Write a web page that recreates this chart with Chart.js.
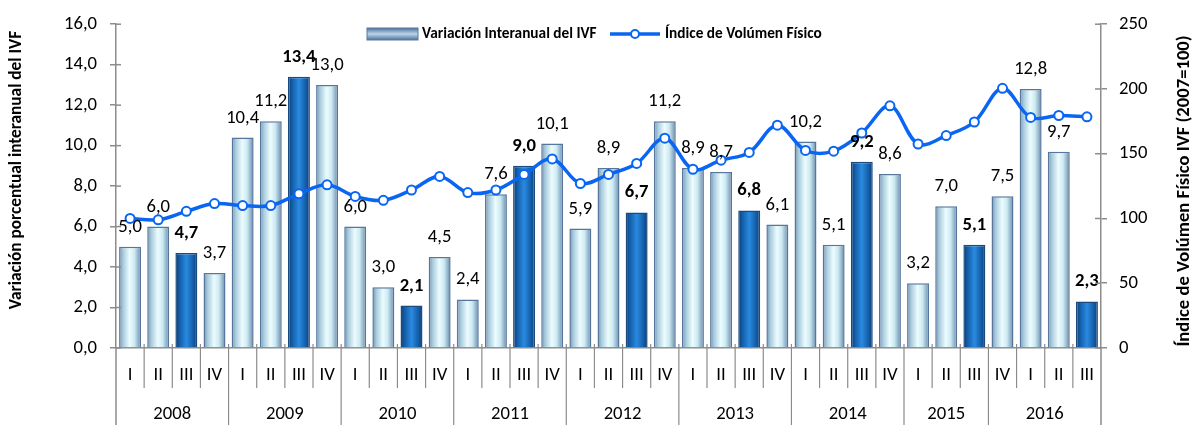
<!DOCTYPE html>
<html>
<head>
<meta charset="utf-8">
<script src="https://cdn.jsdelivr.net/npm/chart.js@4.4.1/dist/chart.umd.min.js"></script>
<style>
html,body{margin:0;padding:0;background:#ffffff;}
#wrap{width:1200px;height:425px;position:relative;}
</style>
</head>
<body>
<div id="wrap"><canvas id="c" width="1200" height="425" style="width:1200px;height:425px;"></canvas></div>
<script>
// ---------- DATA ----------
const quarters = ['I','II','III','IV','I','II','III','IV','I','II','III','IV','I','II','III','IV',
  'I','II','III','IV','I','II','III','IV','I','II','III','IV','I','II','III','IV','I','II','III'];
const yearLabels = ['2008','2009','2010','2011','2012','2013','2014','2015','2016'];
const yearSpans  = [4,4,4,4,4,4,4,3,4];
const variacion = [5.0,6.0,4.7,3.7, 10.4,11.2,13.4,13.0, 6.0,3.0,2.1,4.5, 2.4,7.6,9.0,10.1,
  5.9,8.9,6.7,11.2, 8.9,8.7,6.8,6.1, 10.2,5.1,9.2,8.6, 3.2,7.0,5.1,7.5, 12.8,9.7,2.3];
const indice = [100,99,105.5,111.5, 110,110,119,126, 117,114,122,132.5, 120,122,134,146,
  127,134,142.5,162, 138,145,151,172, 152.5,152,166,187, 157.5,164,174.5,200.5, 178,179.5,178.5];
const seriesNames = ['Variación Interanual del IVF','Índice de Volúmen Físico'];
const leftTitle = 'Variación porcentual interanual del IVF';
const rightTitle = 'Índice de Volúmen Físico IVF (2007=100)';

// ---------- STYLE ----------
const FONT = "Carlito, Lato, 'Open Sans', sans-serif";
const FS = 18.67;
const AXIS = '#8c8c8c';
const LINE = '#0a66f2';
const isHi = i => quarters[i] === 'III';
const fmt = v => v.toFixed(1).replace('.', ',');

function barGradient(chart, i) {
  const xs = chart.scales.x;
  const cx = xs.getPixelForValue(i);
  const w = xs.width / quarters.length * 0.78;
  const g = chart.ctx.createLinearGradient(cx - w / 2, 0, cx + w / 2, 0);
  if (isHi(i)) {
    g.addColorStop(0, '#0a3a72'); g.addColorStop(0.18, '#135ca6');
    g.addColorStop(0.5, '#2a8ae0'); g.addColorStop(0.82, '#135ca6'); g.addColorStop(1, '#0a3a72');
  } else {
    g.addColorStop(0, '#6f8fb2'); g.addColorStop(0.18, '#a8cbdc');
    g.addColorStop(0.48, '#ecfcff'); g.addColorStop(0.7, '#cdeaf2');
    g.addColorStop(0.88, '#8fb0c8'); g.addColorStop(1, '#62809f');
  }
  return g;
}

const decor = {
  id: 'decor',
  afterDatasetsDraw(chart) {
    const ctx = chart.ctx;
    const meta = chart.getDatasetMeta(1);
    ctx.save();
    ctx.textAlign = 'center';
    ctx.textBaseline = 'alphabetic';
    ctx.fillStyle = '#000';
    meta.data.forEach((bar, i) => {
      ctx.font = (isHi(i) ? 'bold ' : '') + FS + 'px ' + FONT;
      ctx.fillText(fmt(variacion[i]), bar.x, bar.y - 15);
    });
    ctx.restore();
  },
  afterDraw(chart) {
    const ctx = chart.ctx;
    const a = chart.chartArea;
    const xs = chart.scales.x;
    const H = chart.height;
    const step = xs.width / quarters.length;
    ctx.save();
    ctx.strokeStyle = AXIS;
    ctx.lineWidth = 1.5;
    ctx.beginPath();
    ctx.moveTo(a.left, a.bottom); ctx.lineTo(a.left, H);
    ctx.moveTo(a.right, a.bottom); ctx.lineTo(a.right, H);
    ctx.stroke();
    ['y', 'y2'].forEach(id => {
      const s = chart.scales[id];
      s.ticks.forEach(t => {
        const py = s.getPixelForValue(t.value);
        ctx.beginPath();
        if (id === 'y') { ctx.moveTo(a.left, py); ctx.lineTo(a.left + 5, py); }
        else { ctx.moveTo(a.right - 6, py); ctx.lineTo(a.right, py); }
        ctx.stroke();
      });
    });
    const yearBounds = new Set();
    let acc = 0;
    yearSpans.forEach(s => { acc += s; yearBounds.add(acc); });
    ctx.lineWidth = 1.2;
    for (let k = 1; k < quarters.length; k++) {
      const px = xs.getPixelForValue(k) - step / 2;
      ctx.beginPath();
      ctx.moveTo(px, a.bottom - 4);
      ctx.lineTo(px, yearBounds.has(k) ? H : a.bottom + 40);
      ctx.stroke();
    }
    ctx.fillStyle = '#000';
    ctx.textAlign = 'center';
    ctx.textBaseline = 'middle';
    ctx.font = FS + 'px ' + FONT;
    quarters.forEach((q, i) => ctx.fillText(q, xs.getPixelForValue(i), a.bottom + 27));
    let start = 0;
    yearLabels.forEach((y, j) => {
      const end = start + yearSpans[j] - 1;
      const cx = (xs.getPixelForValue(start) + xs.getPixelForValue(end)) / 2;
      ctx.fillText(y, cx, a.bottom + 66);
      start += yearSpans[j];
    });
    ctx.font = 'bold 17.3px ' + FONT;
    ctx.save();
    ctx.translate(17, 170); ctx.rotate(-Math.PI / 2);
    ctx.fillText(leftTitle, 0, 0);
    ctx.restore();
    ctx.font = 'bold 18.67px ' + FONT;
    ctx.save();
    ctx.translate(1184, 191); ctx.rotate(-Math.PI / 2);
    ctx.fillText(rightTitle, 0, 0);
    ctx.restore();
    ctx.font = 'bold 15.3px ' + FONT;
    ctx.textAlign = 'left';
    let lx = 367; const ly = 34;
    const lg = ctx.createLinearGradient(0, ly - 6, 0, ly + 6);
    lg.addColorStop(0, '#4d6f9e'); lg.addColorStop(0.5, '#b9d6ea'); lg.addColorStop(1, '#4d6f9e');
    ctx.fillStyle = lg;
    ctx.fillRect(lx, ly - 6, 51, 12);
    ctx.strokeStyle = '#5a7aa0'; ctx.lineWidth = 1;
    ctx.strokeRect(lx, ly - 6, 51, 12);
    ctx.fillStyle = '#000';
    ctx.fillText(seriesNames[0], lx + 55, ly);
    lx = 610;
    ctx.strokeStyle = LINE; ctx.lineWidth = 3.5;
    ctx.beginPath(); ctx.moveTo(lx, ly); ctx.lineTo(lx + 50, ly); ctx.stroke();
    ctx.beginPath(); ctx.arc(lx + 25, ly, 4, 0, Math.PI * 2);
    ctx.fillStyle = '#fff'; ctx.fill(); ctx.lineWidth = 2; ctx.stroke();
    ctx.fillStyle = '#000';
    ctx.fillText(seriesNames[1], lx + 55, ly);
    ctx.restore();
  }
};

new Chart(document.getElementById('c'), {
  type: 'bar',
  data: {
    labels: quarters,
    datasets: [
      {
        type: 'line',
        label: seriesNames[1],
        data: indice,
        yAxisID: 'y2',
        borderColor: LINE,
        borderWidth: 3.5,
        tension: 0.35,
        pointRadius: 4.5,
        pointBackgroundColor: '#ffffff',
        pointBorderColor: LINE,
        pointBorderWidth: 2,
        order: 0
      },
      {
        type: 'bar',
        label: seriesNames[0],
        data: variacion,
        yAxisID: 'y',
        backgroundColor: c => (c.chart.chartArea && c.type === 'data') ? barGradient(c.chart, c.dataIndex) : '#9fc2d8',
        borderColor: c => isHi(c.dataIndex) ? '#1d4a7c' : '#56769c',
        borderWidth: 1.5,
        barPercentage: 0.78,
        categoryPercentage: 1,
        order: 1
      }
    ]
  },
  options: {
    responsive: false,
    maintainAspectRatio: false,
    animation: false,
    devicePixelRatio: 1,
    layout: { padding: { top: 21, left: 0, right: 0, bottom: 0 } },
    plugins: { legend: { display: false }, tooltip: { enabled: false }, title: { display: false } },
    scales: {
      x: {
        type: 'category',
        offset: true,
        grid: { display: false },
        border: { display: true, color: AXIS, width: 1.5 },
        ticks: { display: false },
        afterFit: s => { s.height = 77; }
      },
      y: {
        position: 'left',
        min: 0, max: 16,
        ticks: { stepSize: 2, padding: 13, color: '#000', font: { family: FONT, size: FS }, callback: v => fmt(v) },
        grid: { drawOnChartArea: false, drawTicks: true, tickLength: 6, color: AXIS, lineWidth: 1.5 },
        border: { display: true, color: AXIS, width: 1.5 },
        afterFit: s => { s.width = 116; }
      },
      y2: {
        position: 'right',
        min: 0, max: 250,
        ticks: { stepSize: 50, padding: 12, color: '#000', font: { family: FONT, size: FS } },
        grid: { drawOnChartArea: false, drawTicks: true, tickLength: 6, color: AXIS, lineWidth: 1.5 },
        border: { display: true, color: AXIS, width: 1.5 },
        afterFit: s => { s.width = 99; }
      }
    }
  },
  plugins: [decor]
});
</script>
</body>
</html>
